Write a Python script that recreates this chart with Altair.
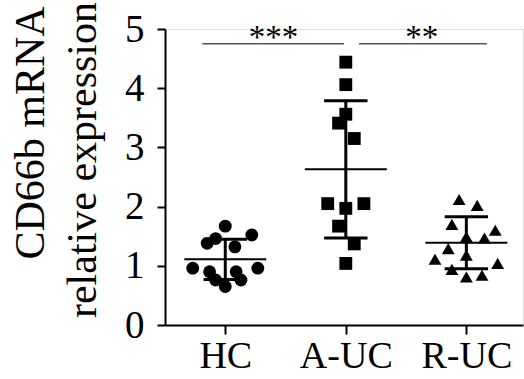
import altair as alt
import pandas as pd

categories = ["HC", "A-UC", "R-UC"]
shapes = ["circle", "square", "triangle-up"]

hc_vals = [1.67, 1.52, 1.46, 1.38, 1.32, 0.96, 0.96, 0.90, 0.90, 0.76, 0.76, 0.65]
hc_off = [0, 0.22, -0.08, -0.15, 0.08, -0.27, 0.27, -0.13, 0.09, -0.08, 0.13, 0]
auc_vals = [4.44, 4.06, 3.56, 3.41, 3.15, 2.05, 2.05, 1.97, 1.67, 1.37, 1.04]
auc_off = [0, 0, 0, -0.06, 0.07, -0.15, 0.15, 0, -0.06, 0.07, 0]
ruc_vals = [2.12, 2.02, 1.70, 1.60, 1.47, 1.49, 1.29, 1.18, 1.11, 1.04, 0.94, 0.81, 0.84]
ruc_off = [-0.06, 0.09, -0.12, 0.24, 0.15, 0, -0.15, 0, -0.26, 0.26, -0.12, 0, 0.13]

mean_vals = [1.11, 2.63, 1.39]
sd_vals = [0.34, 1.16, 0.44]

sig_labels = ["***", "**"]
sig_start = [-0.19, 1.11]
sig_end = [0.985, 2.17]
sig_mid = [0.4, 1.63]
sig_y = [4.75, 4.75]

FONT = "Liberation Serif"

rows = []
for gi, (vals, offs) in enumerate([(hc_vals, hc_off), (auc_vals, auc_off), (ruc_vals, ruc_off)]):
    for v, o in zip(vals, offs):
        rows.append({"group": categories[gi], "gi": gi, "pos": gi + o, "value": v})
pts = pd.DataFrame(rows)

summ = pd.DataFrame({"group": categories, "gi": list(range(3)), "mean": mean_vals, "sd": sd_vals})
summ["lo"] = summ["mean"] - summ["sd"]
summ["hi"] = summ["mean"] + summ["sd"]

sig = pd.DataFrame({"label": sig_labels, "xs": sig_start, "xe": sig_end, "xm": sig_mid, "y": sig_y})

xscale = alt.Scale(domain=[-0.5, 2.47], nice=False, zero=False)
yscale = alt.Scale(domain=[0, 5], nice=False)

label_expr = "[" + ",".join("'%s'" % c for c in categories) + "][datum.value]"

xaxis = alt.Axis(values=[0, 1, 2], labelExpr=label_expr, title=None, grid=False,
                 labelFont=FONT, labelFontSize=38, labelColor="black",
                 tickSize=9, tickWidth=2, tickColor="black", domainColor="black",
                 domainWidth=2, labelPadding=3)
yaxis = alt.Axis(values=[0, 1, 2, 3, 4, 5], format="d", title=None, grid=False,
                 labelFont=FONT, labelFontSize=39, labelColor="black",
                 tickSize=8, tickWidth=2, tickColor="black", domainColor="black",
                 domainWidth=2, labelPadding=13)

points = alt.Chart(pts).mark_point(filled=True, opacity=1, color="black").encode(
    x=alt.X("pos:Q", scale=xscale, axis=xaxis),
    y=alt.Y("value:Q", scale=yscale, axis=yaxis),
    shape=alt.Shape("group:N", scale=alt.Scale(domain=categories, range=shapes), legend=None),
    size=alt.Size("group:N", scale=alt.Scale(domain=categories, range=[165, 165, 190]), legend=None),
)

base = alt.Chart(summ)
vbar = base.mark_rule(color="black", strokeWidth=3).encode(
    x="gi:Q", y="lo:Q", y2="hi:Q")
meanline = base.transform_calculate(x1="datum.gi - 0.34", x2="datum.gi + 0.34").mark_rule(
    color="black", strokeWidth=2).encode(x="x1:Q", x2="x2:Q", y="mean:Q")
captop = base.transform_calculate(x1="datum.gi - 0.18", x2="datum.gi + 0.18").mark_rule(
    color="black", strokeWidth=3).encode(x="x1:Q", x2="x2:Q", y="hi:Q")
capbot = base.transform_calculate(x1="datum.gi - 0.18", x2="datum.gi + 0.18").mark_rule(
    color="black", strokeWidth=3).encode(x="x1:Q", x2="x2:Q", y="lo:Q")

sbase = alt.Chart(sig)
siglines = sbase.mark_rule(color="#555555", strokeWidth=1.5).encode(x="xs:Q", x2="xe:Q", y="y:Q")
sigtext = sbase.mark_text(font=FONT, fontSize=33, color="black", baseline="alphabetic",
                          align="center", dy=4).encode(x="xm:Q", y="y:Q", text="label:N")

ytitle = pd.DataFrame({"t": ["CD66b mRNA", "relative expression"], "px": [-121, -69], "py": [104, 131]})
titles = alt.Chart(ytitle).mark_text(font=FONT, fontSize=42, color="black", angle=270,
                                     baseline="alphabetic", align="center").encode(
    x=alt.X("px:Q", scale=None), y=alt.Y("py:Q", scale=None), text="t:N")

chart = alt.layer(points, vbar, meanline, captop, capbot, siglines, sigtext, titles).properties(
    width=358, height=296,
    autosize=alt.AutoSizeParams(type="none"),
    padding={"left": 165, "top": 29, "right": 1, "bottom": 54},
).configure_view(stroke=None).configure(background="white")

chart.save("out.html", embed_options={"renderer": "svg", "actions": False})
